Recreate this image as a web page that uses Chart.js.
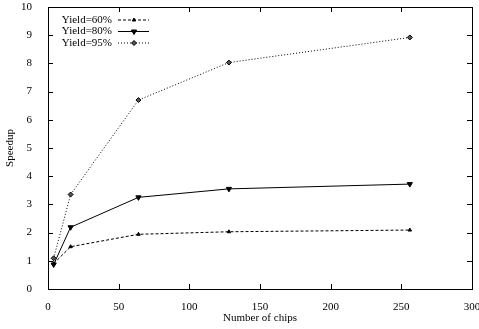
<!DOCTYPE html>
<html>
<head>
<meta charset="utf-8">
<script src="https://cdn.jsdelivr.net/npm/chart.js@4"></script>
<style>
  html, body { margin: 0; padding: 0; background: #fff; }
  #wrap { width: 479px; height: 329px; }
</style>
</head>
<body>
<div id="wrap"><canvas id="grafico"></canvas></div>
<script>
// datos
const chips = [4, 16, 64, 128, 256];
const yield60 = [0.9, 1.5, 1.94, 2.03, 2.09];
const yield80 = [0.87, 2.19, 3.25, 3.55, 3.72];
const yield95 = [1.09, 3.35, 6.7, 8.03, 8.92];
const seriesLabels = ['Yield=60%', 'Yield=80%', 'Yield=95%'];
const xTicks = [0, 50, 100, 150, 200, 250, 300];
const yTicks = [0, 1, 2, 3, 4, 5, 6, 7, 8, 9, 10];

const fuente = { family: 'Liberation Serif', size: 11 };

function puntos(ys) {
    return chips.map((x, i) => ({ x: x, y: ys[i] }));
}

// ticks hacia adentro en los cuatro lados + leyenda estilo gnuplot
const marcoPlugin = {
    id: 'marco',
    afterDatasetsDraw(chart) {
        const ctx = chart.ctx;
        const a = chart.chartArea;
        const sx = chart.scales.x, sy = chart.scales.y;
        ctx.save();
        ctx.strokeStyle = '#000';
        ctx.lineWidth = 1;
        ctx.strokeRect(a.left + 0.5, a.top + 0.5, a.right - a.left, a.bottom - a.top);
        ctx.beginPath();
        xTicks.forEach(v => {
            const px = Math.round(sx.getPixelForValue(v)) + 0.5;
            ctx.moveTo(px, a.bottom); ctx.lineTo(px, a.bottom - 5);
            ctx.moveTo(px, a.top); ctx.lineTo(px, a.top + 5);
        });
        yTicks.forEach(v => {
            const py = Math.round(sy.getPixelForValue(v)) + 0.5;
            ctx.moveTo(a.left, py); ctx.lineTo(a.left + 5, py);
            ctx.moveTo(a.right, py); ctx.lineTo(a.right - 5, py);
        });
        ctx.stroke();

        // leyenda
        ctx.font = '11px "Liberation Serif"';
        ctx.textAlign = 'right';
        ctx.textBaseline = 'middle';
        chart.data.datasets.forEach((ds, i) => {
            const y = 20 + i * 11.5;
            ctx.fillStyle = '#000';
            ctx.fillText(ds.label, 112, y);
            ctx.beginPath();
            ctx.setLineDash(ds.borderDash || []);
            ctx.moveTo(118, y); ctx.lineTo(149, y);
            ctx.stroke();
            ctx.setLineDash([]);
            ctx.fillStyle = ds.backgroundColor;
            Chart.helpers.drawPoint(ctx, {
                pointStyle: ds.pointStyle,
                rotation: ds.pointRotation || 0,
                radius: ds.pointRadius,
                borderWidth: 1
            }, 134, y);
        });
        ctx.restore();
    }
};

new Chart(document.getElementById('grafico'), {
    type: 'line',
    data: {
        datasets: [{
            label: seriesLabels[0],
            data: puntos(yield60),
            borderColor: '#000',
            backgroundColor: '#000',
            borderWidth: 1,
            borderDash: [3, 2],
            pointStyle: 'triangle',
            pointRadius: 2
        }, {
            label: seriesLabels[1],
            data: puntos(yield80),
            borderColor: '#000',
            backgroundColor: '#000',
            borderWidth: 1,
            pointStyle: 'triangle',
            pointRotation: 180,
            pointRadius: 3
        }, {
            label: seriesLabels[2],
            data: puntos(yield95),
            borderColor: '#000',
            backgroundColor: '#555',
            borderWidth: 1,
            borderDash: [1, 2],
            pointStyle: 'rectRot',
            pointRadius: 2.5
        }]
    },
    plugins: [marcoPlugin],
    options: {
        animation: false,
        responsive: true,
        maintainAspectRatio: false,
        layout: { padding: { top: 7, right: 7, left: 0, bottom: 0 } },
        plugins: {
            legend: { display: false },
            tooltip: { enabled: false }
        },
        scales: {
            x: {
                type: 'linear',
                min: 0, max: 300,
                afterBuildTicks: s => { s.ticks = xTicks.map(v => ({ value: v })); },
                afterFit: s => { s.height = 40; s.paddingLeft = 0; s.paddingRight = 0; },
                grid: { display: false },
                border: { display: false },
                ticks: { color: '#000', font: fuente, padding: 4, maxRotation: 0 },
                title: { display: true, text: 'Number of chips', color: '#000', font: fuente, padding: { top: 2 } }
            },
            y: {
                min: 0, max: 10,
                afterBuildTicks: s => { s.ticks = yTicks.map(v => ({ value: v })); },
                afterFit: s => { s.width = 48; s.paddingTop = 0; s.paddingBottom = 0; },
                grid: { display: false },
                border: { display: false },
                ticks: { color: '#000', font: fuente, padding: 8 },
                title: { display: true, text: 'Speedup', color: '#000', font: fuente, padding: { bottom: 2 } }
            }
        }
    }
});
</script>
</body>
</html>
